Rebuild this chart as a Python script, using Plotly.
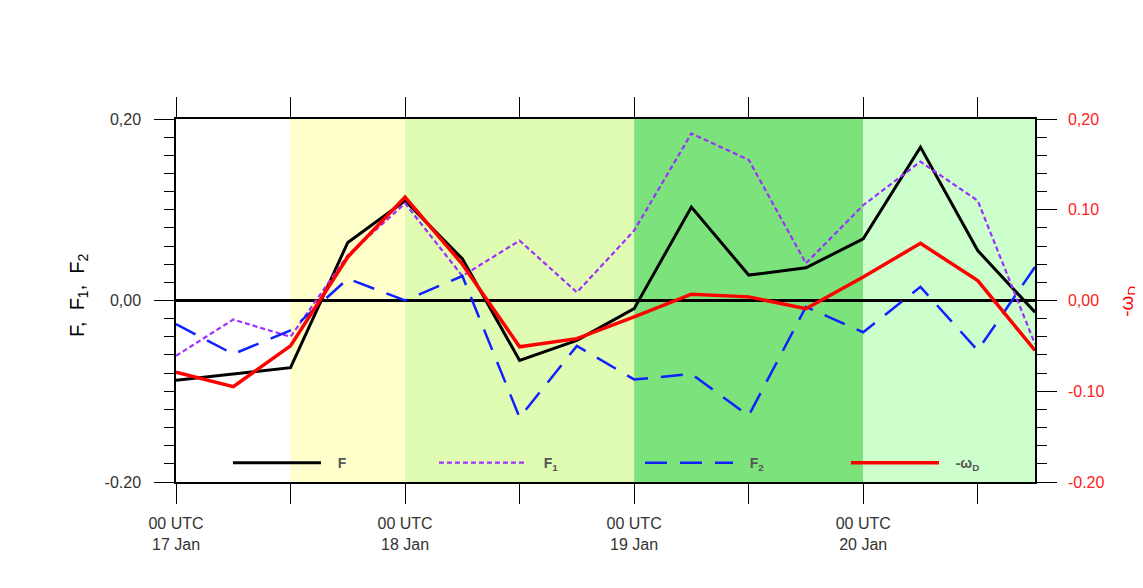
import plotly.graph_objects as go
import pandas as pd

# ---- data ----
times = pd.date_range("2000-01-17 00:00", periods=16, freq="6h")
F  = [-0.088, -0.081, -0.074, 0.064, 0.110, 0.046, -0.066, -0.044, -0.009, 0.103, 0.028, 0.036, 0.068, 0.169, 0.055, -0.013]
F1 = [-0.061, -0.021, -0.040, 0.050, 0.107, 0.027, 0.066, 0.009, 0.077, 0.184, 0.155, 0.041, 0.105, 0.153, 0.110, -0.048]
F2 = [-0.026, -0.059, -0.033, 0.024, 0.000, 0.027, -0.129, -0.050, -0.087, -0.081, -0.127, -0.007, -0.035, 0.015, -0.055, 0.037]
omegaD = [-0.079, -0.095, -0.050, 0.048, 0.114, 0.040, -0.051, -0.042, -0.018, 0.007, 0.004, -0.009, 0.026, 0.063, 0.022, -0.055]

period_edges = ["2000-01-17 12:00", "2000-01-18 00:00", "2000-01-19 00:00", "2000-01-20 00:00", "2000-01-20 18:00"]
period_colors = ["#FFFFCC", "#E0FCB2", "#7CE37C", "#CCFFCC"]

xtick_vals = pd.date_range("2000-01-17 00:00", periods=4, freq="24h")
xtick_text = ["00 UTC<br>17 Jan", "00 UTC<br>18 Jan", "00 UTC<br>19 Jan", "00 UTC<br>20 Jan"]

yl_vals = [-0.2, 0.0, 0.2]
yl_text = ["-0.20", "0,00", "0,20"]
yl_mid = [-0.1, 0.1]
yr_vals = [-0.2, -0.1, 0.0, 0.1, 0.2]
yr_text = ["-0.20", "-0.10", "0,00", "0.10", "0,20"]

left_title = "F,&nbsp;&nbsp;F<sub>1</sub>,&nbsp;&nbsp;F<sub>2</sub>"
right_title = "-ω<sub>D</sub>"

FONT = "Liberation Sans, Arial, sans-serif"
GAP = "&nbsp;&nbsp;&nbsp;"

fig = go.Figure()
fig.add_trace(go.Scatter(x=times, y=F, mode="lines", name=GAP + "F",
                         line=dict(color="black", width=3)))
fig.add_trace(go.Scatter(x=times, y=F1, mode="lines", name=GAP + "F<sub>1</sub>",
                         line=dict(color="#9B30FF", width=2.2, dash="5px,3px")))
fig.add_trace(go.Scatter(x=times, y=F2, mode="lines", name=GAP + "F<sub>2</sub>",
                         line=dict(color="#1020FF", width=2.5, dash="22px,13px")))
fig.add_trace(go.Scatter(x=times, y=omegaD, mode="lines", name=GAP + "-ω<sub>D</sub>",
                         line=dict(color="#FF0000", width=3.5), yaxis="y2"))

shapes = []
for i, c in enumerate(period_colors):
    shapes.append(dict(type="rect", xref="x", yref="paper", x0=period_edges[i], x1=period_edges[i + 1],
                       y0=0, y1=1, fillcolor=c, line=dict(width=0), layer="below"))

TK = dict(ticks="outside", ticklen=20, tickwidth=1.3, tickcolor="black")
MINOR_Y = dict(dtick=0.02, ticks="outside", ticklen=10, tickwidth=1.3, tickcolor="black")

fig.update_layout(
    width=1135, height=572,
    margin=dict(l=168, r=108, t=111, b=98, autoexpand=False),
    paper_bgcolor="white", plot_bgcolor="white",
    font=dict(family=FONT, size=16, color="#333333"),
    shapes=shapes,
    showlegend=True,
    legend=dict(orientation="h", xref="container", x=0.1938, y=0.052, xanchor="left", yanchor="middle",
                bgcolor="rgba(0,0,0,0)", entrywidth=103, entrywidthmode="pixels",
                itemwidth=88,
                font=dict(size=14, color="#555555", family=FONT, weight="bold")),
    annotations=[
        dict(text=left_title, xref="paper", yref="paper", x=-0.1141, y=0.515, showarrow=False,
             textangle=-90, xanchor="center", yanchor="middle", font=dict(size=20, color="black")),
        dict(text=right_title, xref="paper", yref="paper", x=1.108, y=0.4986, showarrow=False,
             textangle=-90, xanchor="center", yanchor="middle", font=dict(size=19, color="#FF0000")),
    ],
    xaxis=dict(type="date", range=[times[0], times[-1]], tickvals=xtick_vals, ticktext=xtick_text,
               minor=dict(dtick=12 * 3600 * 1000, tick0=times[0], ticks="outside", ticklen=20, tickwidth=1.3, tickcolor="black"),
               showline=True, linecolor="black", linewidth=1.5, mirror="ticks", ticklabelstandoff=6,
               showgrid=False, zeroline=False, tickfont=dict(size=16, color="#333333"), **TK),
    yaxis=dict(range=[-0.2, 0.2], tickvals=yl_vals, ticktext=yl_text, minor=MINOR_Y,
               showline=True, linecolor="black", linewidth=1.5, ticklabelstandoff=10,
               showgrid=False, zeroline=True, zerolinecolor="black", zerolinewidth=3,
               tickfont=dict(size=16, color="#333333"), **TK),
    yaxis3=dict(range=[-0.2, 0.2], overlaying="y", side="left", tickvals=yl_mid, showticklabels=False,
                showline=False, showgrid=False, zeroline=False, **TK),
    yaxis2=dict(range=[-0.2, 0.2], overlaying="y", side="right", tickvals=yr_vals, ticktext=yr_text, minor=MINOR_Y,
                showline=True, linecolor="black", linewidth=1.5, ticklabelstandoff=8,
                showgrid=False, zeroline=False,
                tickfont=dict(size=16, color="#FF2020"), **TK),
)

fig.write_html("out.html")
